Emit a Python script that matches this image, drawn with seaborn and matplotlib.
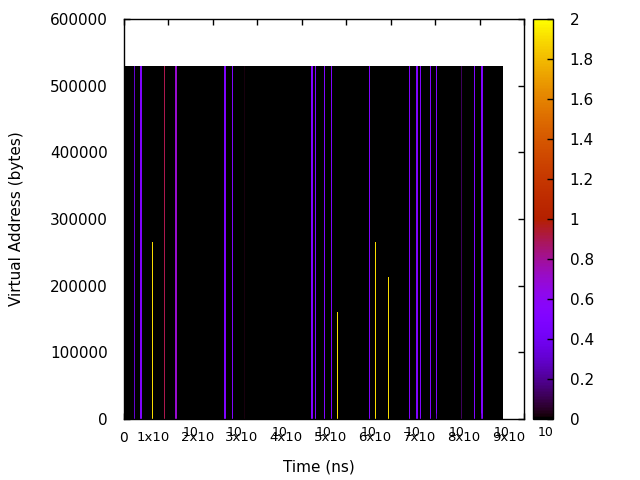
import numpy as np
import matplotlib
matplotlib.use("Agg")
import matplotlib.pyplot as plt
import seaborn as sns

# ---------------- data ----------------
time_bin_ns = 2.25e8         # width of one time bin (ns)
addr_bin = 1500              # height of one address bin (bytes)
t_axis_max = 9e10
addr_axis_max = 600000
data_t_end = 8.53e10         # recorded data extent in time
data_addr_end = 530000       # recorded data extent in address

# vertical stripes of accesses: time (ns), value, width (bins), top address (bytes)
stripe_times = [2.32e9, 3.6e9, 6.37e9, 9.07e9, 11.5e9, 22.7e9, 24.4e9, 27.2e9,
                42.1e9, 43.0e9, 45.1e9, 46.6e9, 48.0e9, 55.2e9, 56.5e9, 59.5e9,
                64.2e9, 65.7e9, 66.8e9, 68.9e9, 70.3e9, 75.9e9, 78.8e9, 80.5e9]
stripe_values = [0.3, 0.5, 1.9, 0.9, 0.7, 0.5, 0.5, 0.02,
                 0.5, 0.5, 0.5, 0.5, 1.9, 0.5, 1.9, 1.9,
                 0.5, 0.5, 0.5, 0.5, 0.5, 0.12, 0.5, 0.5]
stripe_widths = [1, 2, 1, 1, 2, 2, 1, 1,
                 2, 1, 1, 1, 1, 1, 1, 1,
                 1, 2, 1, 1, 1, 1, 1, 2]
stripe_tops = [530000, 530000, 265000, 530000, 530000, 530000, 530000, 530000,
               530000, 530000, 530000, 530000, 160000, 530000, 265000, 213000,
               530000, 530000, 530000, 530000, 530000, 530000, 530000, 530000]

x_tick_values = [0, 1, 2, 3, 4, 5, 6, 7, 8, 9]          # x 10^10 ns
y_tick_values = [0, 100000, 200000, 300000, 400000, 500000, 600000]
cb_tick_values = [0, 0.2, 0.4, 0.6, 0.8, 1, 1.2, 1.4, 1.6, 1.8, 2]
cb_tick_labels = ["0", "0.2", "0.4", "0.6", "0.8", "1", "1.2", "1.4", "1.6", "1.8", "2"]

# ---------------- grid ----------------
n_cols = int(round(t_axis_max / time_bin_ns))
n_rows = int(round(addr_axis_max / addr_bin))
grid = np.full((n_rows, n_cols), np.nan)
grid[:int(round(data_addr_end / addr_bin)), :int(round(data_t_end / time_bin_ns))] = 0.0
for t, v, w, top in zip(stripe_times, stripe_values, stripe_widths, stripe_tops):
    c = int(t / time_bin_ns)
    r = int(round(top / addr_bin))
    grid[:r, c:c + w] = v

# ---------------- figure ----------------
fig = plt.figure(figsize=(6.4, 4.8), dpi=100)
ax = fig.add_axes([124 / 640, 61 / 480, 400 / 640, 400 / 480])
cax = fig.add_axes([533 / 640, 61 / 480, 20 / 640, 400 / 480])

sns.heatmap(grid, ax=ax, cbar_ax=cax, cmap="gnuplot", vmin=0, vmax=2,
            xticklabels=False, yticklabels=False, rasterized=True,
            linewidths=0, antialiased=False)
ax.invert_yaxis()
ax.set_xlim(0, n_cols)
ax.set_ylim(0, n_rows)

for s in ax.spines.values():
    s.set_visible(True)
    s.set_color("black")
    s.set_linewidth(1)

ax.set_xticks([k * 1e10 / time_bin_ns for k in x_tick_values])
ax.set_xticklabels([""] * len(x_tick_values))
ax.set_yticks([v / addr_bin for v in y_tick_values])
ax.set_yticklabels([str(v) for v in y_tick_values], fontsize=11)
ax.tick_params(axis="both", direction="in", top=True, right=True,
               length=4.5, width=1, color="black")
ax.tick_params(axis="y", pad=11.5)

# gnuplot-style x tick labels with offset superscripts
for k in x_tick_values:
    xc = k * 1e10 / time_bin_ns
    if k == 0:
        ax.annotate("0", xy=(xc, 0), xycoords=("data", "axes fraction"),
                    xytext=(0, -12), textcoords="offset pixels",
                    ha="center", va="top", fontsize=10)
    else:
        ax.annotate(f"{k}x10", xy=(xc, 0), xycoords=("data", "axes fraction"),
                    xytext=(1, -12), textcoords="offset pixels",
                    ha="right", va="top", fontsize=9.5)
        ax.annotate("10", xy=(xc, 0), xycoords=("data", "axes fraction"),
                    xytext=(14, -7), textcoords="offset pixels",
                    ha="left", va="top", fontsize=9)

ax.set_xlabel("Time (ns)", fontsize=11)
ax.xaxis.set_label_coords((319 - 124) / 400, (419 - 460) / 400)
ax.set_ylabel("Virtual Address (bytes)", fontsize=11)
ax.yaxis.set_label_coords((24 - 124) / 400, 0.5)

cbar = ax.collections[0].colorbar
cbar.set_ticks(cb_tick_values)
cbar.set_ticklabels(cb_tick_labels)
cbar.ax.tick_params(direction="in", length=4.5, width=1, labelsize=11,
                    pad=12, color="black", right=True, left=False)
cbar.outline.set_visible(True)
cbar.outline.set_edgecolor("black")
cbar.outline.set_linewidth(1)

fig.savefig("out.png", dpi=100)
